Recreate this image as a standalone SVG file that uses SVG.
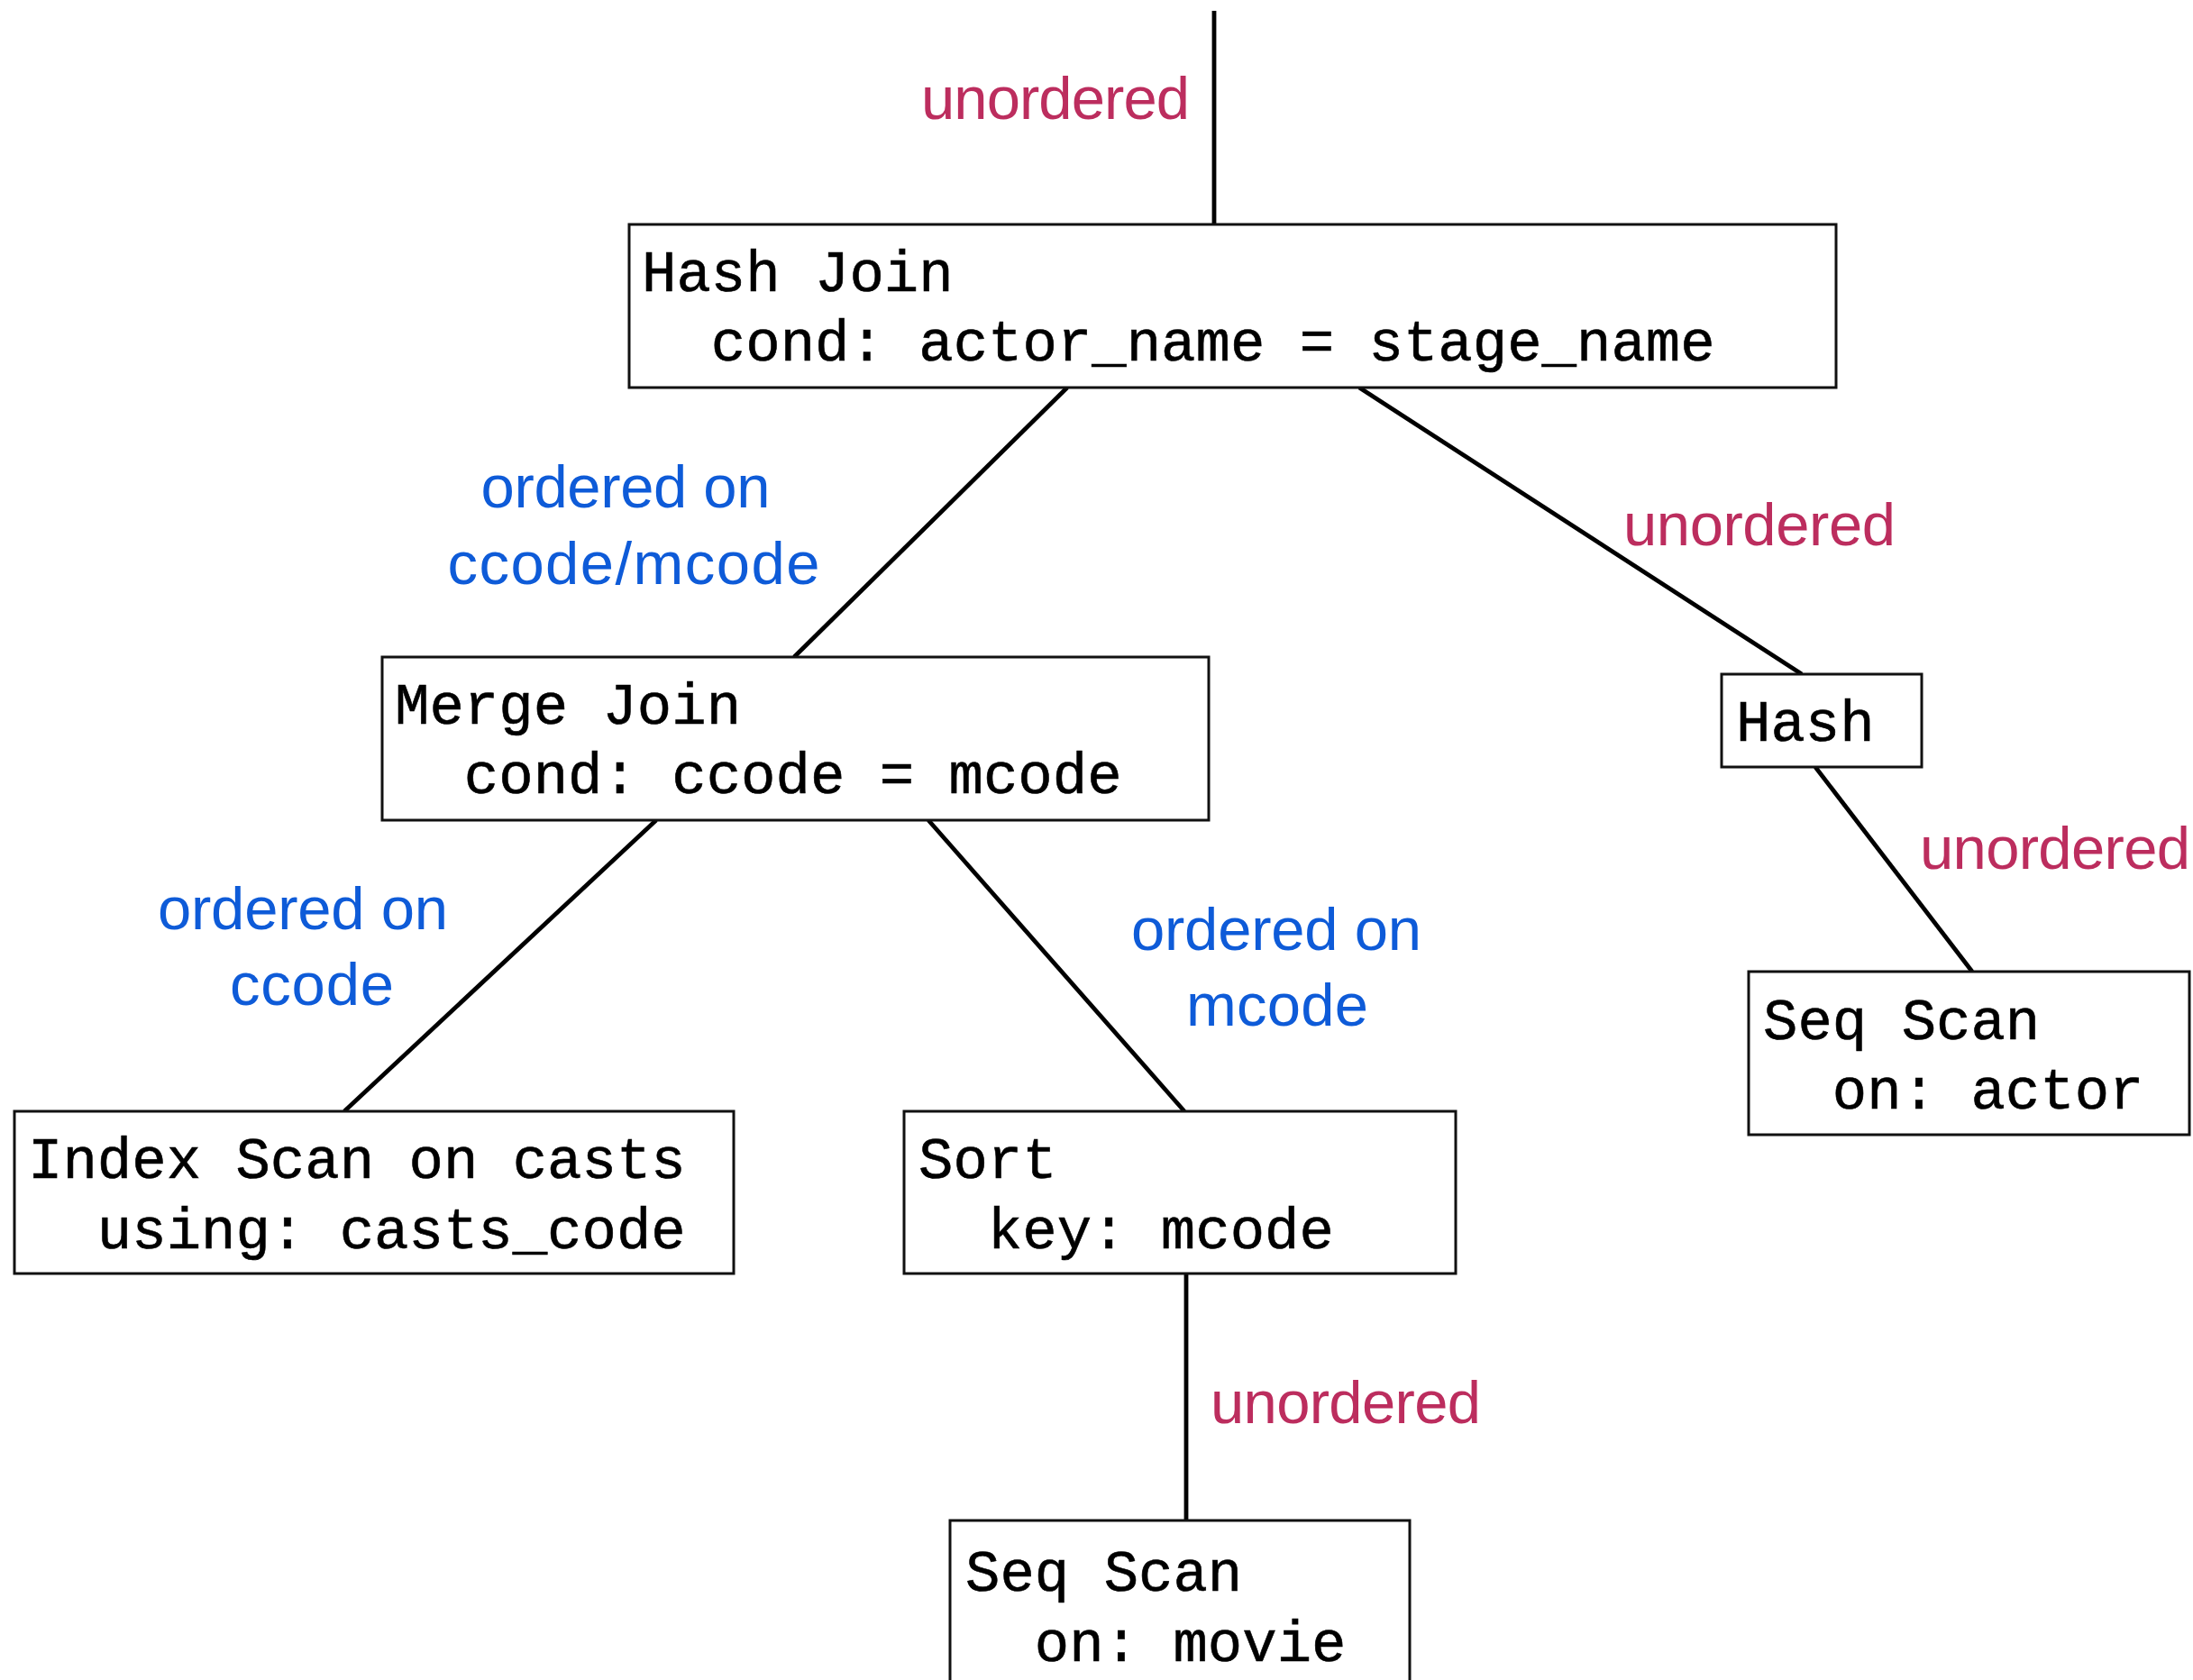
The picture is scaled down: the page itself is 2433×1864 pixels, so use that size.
<svg xmlns="http://www.w3.org/2000/svg" width="2433" height="1864" viewBox="0 0 2433 1864">
<style>
.box{fill:#fff;stroke:#111;stroke-width:3}
.code{font-family:"Liberation Mono","Courier New",monospace;font-size:64px;fill:#000;stroke:#000;stroke-width:0.6}
.lbl{font-family:"Liberation Sans",Arial,sans-serif;font-size:67px;text-anchor:middle}
.un{fill:#BC2D5E}
.ord{fill:#0E5BD8}
.edge{stroke:#000;stroke-width:4.8;fill:none}
</style>
<rect width="2433" height="1864" fill="#fff"/>
<g id="connectors">
<line class="edge" x1="1347" y1="12" x2="1347" y2="248"/>
<line class="edge" x1="1184" y1="430" x2="881" y2="729"/>
<line class="edge" x1="1508" y1="430" x2="1999" y2="748"/>
<line class="edge" x1="2014" y1="851" x2="2188" y2="1078"/>
<line class="edge" x1="728" y1="910" x2="382" y2="1233"/>
<line class="edge" x1="1030" y1="910" x2="1314" y2="1233"/>
<line class="edge" x1="1316" y1="1413" x2="1316" y2="1687"/>
</g>
<g id="labels">
<text class="lbl un" x="1171" y="132" textLength="298">unordered</text>
<text class="lbl ord" x="694" y="563" textLength="321">ordered on</text>
<text class="lbl ord" x="703" y="648" textLength="413">ccode/mcode</text>
<text class="lbl un" x="1952" y="605" textLength="302">unordered</text>
<text class="lbl un" x="2280" y="964" textLength="300">unordered</text>
<text class="lbl ord" x="336" y="1031" textLength="322">ordered on</text>
<text class="lbl ord" x="346" y="1115" textLength="182">ccode</text>
<text class="lbl ord" x="1416" y="1054" textLength="322">ordered on</text>
<text class="lbl ord" x="1417" y="1138" textLength="202">mcode</text>
<text class="lbl un" x="1493" y="1579" textLength="300">unordered</text>
</g>
<g id="hash_join">
<rect class="box" x="698" y="249" width="1339" height="181"/>
<text class="code" x="712" y="323">Hash Join</text>
<text class="code" x="712" y="400" xml:space="preserve">  cond: actor_name = stage_name</text>
</g>
<g id="merge_join">
<rect class="box" x="424" y="729" width="917" height="181"/>
<text class="code" x="438" y="803">Merge Join</text>
<text class="code" x="438" y="880" xml:space="preserve">  cond: ccode = mcode</text>
</g>
<g id="hash">
<rect class="box" x="1910" y="748" width="222" height="103"/>
<text class="code" x="1926" y="822">Hash</text>
</g>
<g id="seq_scan_actor">
<rect class="box" x="1940" y="1078" width="489" height="181"/>
<text class="code" x="1956" y="1153">Seq Scan</text>
<text class="code" x="1956" y="1230" xml:space="preserve">  on: actor</text>
</g>
<g id="index_scan">
<rect class="box" x="16" y="1233" width="798" height="180"/>
<text class="code" x="31" y="1307">Index Scan on casts</text>
<text class="code" x="31" y="1385" xml:space="preserve">  using: casts_code</text>
</g>
<g id="sort">
<rect class="box" x="1003" y="1233" width="612" height="180"/>
<text class="code" x="1019" y="1307">Sort</text>
<text class="code" x="1019" y="1385" xml:space="preserve">  key: mcode</text>
</g>
<g id="seq_scan_movie">
<rect class="box" x="1054" y="1687" width="510" height="200"/>
<text class="code" x="1071" y="1765">Seq Scan</text>
<text class="code" x="1071" y="1843" xml:space="preserve">  on: movie</text>
</g>
</svg>
